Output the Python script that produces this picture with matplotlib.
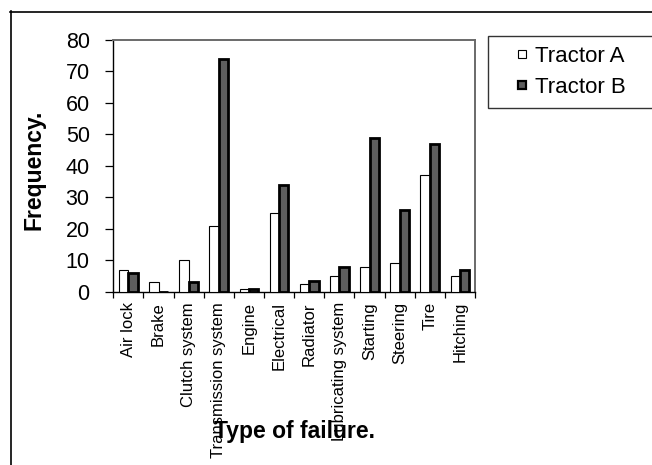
import matplotlib
matplotlib.use("Agg")
import matplotlib.pyplot as plt
import numpy as np
from matplotlib.lines import Line2D

plt.rcParams["font.family"] = ["Liberation Sans", "DejaVu Sans"]

categories = ["Air lock", "Brake", "Clutch system", "Transmission system", "Engine",
              "Electrical", "Radiator", "Lubricating system", "Starting", "Steering",
              "Tire", "Hitching"]
tractor_a = [7, 3, 10, 21, 1, 25, 2.5, 5, 8, 9, 37, 5]
tractor_b = [6, 0, 3, 74, 1, 34, 3.5, 8, 49, 26, 47, 7]
y_ticks = [0, 10, 20, 30, 40, 50, 60, 70, 80]

W, H = 652, 465
fig = plt.figure(figsize=(W / 100, H / 100), dpi=100)
fig.patch.set_facecolor("white")

# plot area in pixel terms
left, right, top, bottom = 113.3, 475.0, 40.0, 291.7
ax = fig.add_axes([left / W, 1 - bottom / H, (right - left) / W, (bottom - top) / H])

x = np.arange(len(categories))
w = 0.31
ax.bar(x - w / 2, tractor_a, width=w, facecolor="white", edgecolor="black",
       linewidth=0.8, label="Tractor A", zorder=3)
ax.bar(x + w / 2, tractor_b, width=w, facecolor="#5e5e5e", edgecolor="black",
       linewidth=2.0, label="Tractor B", zorder=3)

ax.set_xlim(-0.5, len(categories) - 0.5)
ax.set_ylim(0, 80)
ax.set_yticks(y_ticks)
ax.tick_params(axis="y", direction="out", length=6, width=0.9, pad=11, labelsize=15.5)

# category labels centred under groups, tick marks on group boundaries
ax.set_xticks(x)
ax.set_xticklabels(categories, rotation=90, fontsize=12)
ax.tick_params(axis="x", which="major", length=0, pad=7.5)
ax.set_xticks(np.arange(-0.5, len(categories)), minor=True)
ax.tick_params(axis="x", which="minor", direction="out", length=4, width=0.9)

for side in ("top", "right"):
    ax.spines[side].set_color("#6a6a6a")
    ax.spines[side].set_linewidth(1.4)
for side in ("left", "bottom"):
    ax.spines[side].set_color("black")
    ax.spines[side].set_linewidth(1.0)

ax.set_ylabel("Frequency.", fontsize=16.5, fontweight="bold")
ax.yaxis.set_label_coords(-0.188, 0.484)
ax.set_xlabel("Type of failure.", fontsize=16.5, fontweight="bold")
ax.xaxis.set_label_coords(0.5, -0.51)

handles = [
    Line2D([], [], linestyle="none", marker="s", markersize=5.8,
           markerfacecolor="white", markeredgecolor="black", markeredgewidth=0.8),
    Line2D([], [], linestyle="none", marker="s", markersize=5.8,
           markerfacecolor="#5e5e5e", markeredgecolor="black", markeredgewidth=1.6),
]
leg = fig.legend(handles, ["Tractor A", "Tractor B"], loc="upper left",
                 bbox_to_anchor=(487.7 / W, 1 - 36 / H, 0.35, 0.0), mode="expand",
                 borderaxespad=0, fontsize=16, fancybox=False, frameon=True,
                 borderpad=0.45, labelspacing=0.46, handlelength=2.2,
                 handletextpad=-0.5)
leg.get_frame().set_edgecolor("black")
leg.get_frame().set_linewidth(1.0)

# outer frame around the figure
fig.add_artist(Line2D([10 / W, 1], [1 - 12 / H, 1 - 12 / H], color="black", linewidth=1.2,
                      transform=fig.transFigure))
fig.add_artist(Line2D([11 / W, 11 / W], [0, 1 - 11 / H], color="black", linewidth=1.2,
                      transform=fig.transFigure))

fig.savefig("out.png", dpi=100, facecolor="white")
